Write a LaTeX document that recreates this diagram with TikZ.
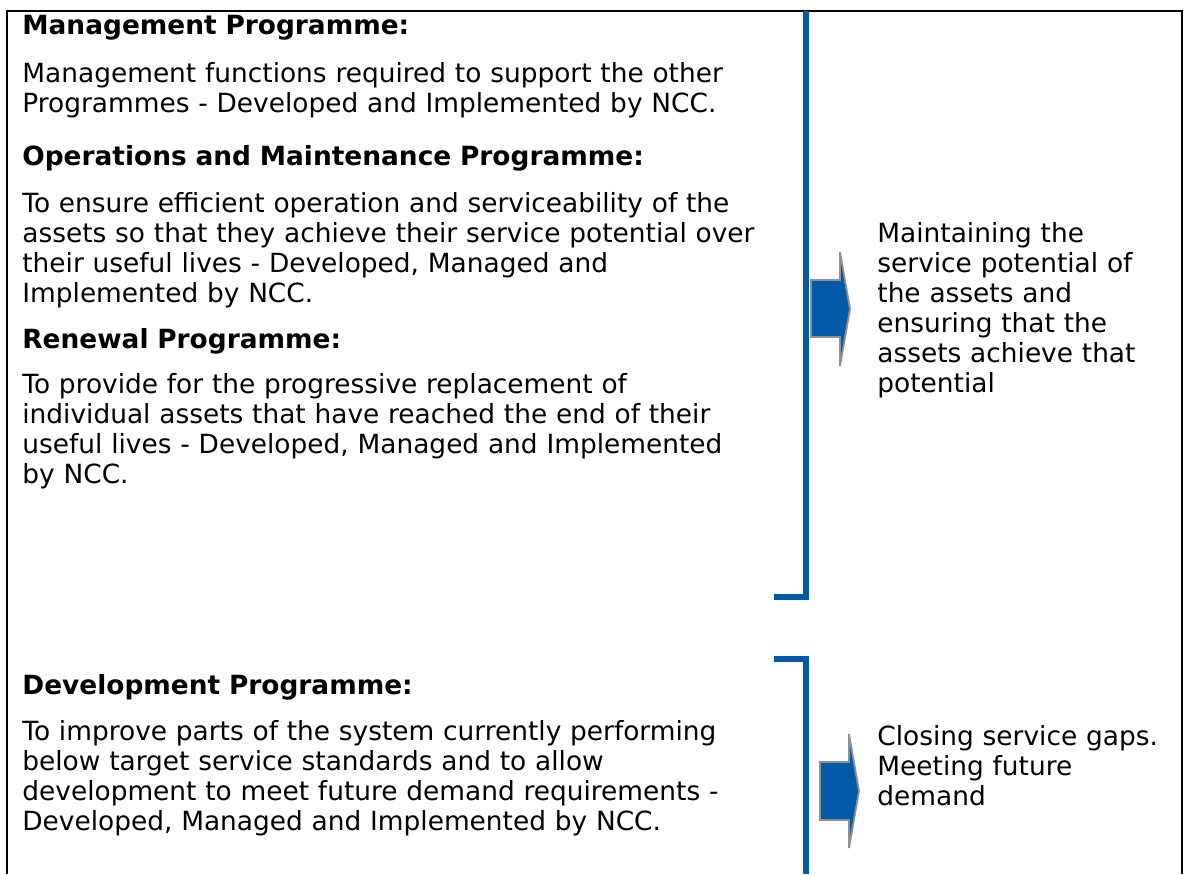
\documentclass[tikz,border=0pt]{standalone}
\usepackage{fontspec}
\setmainfont{DejaVu Sans}
\usepackage{tikz}
\usetikzlibrary{positioning}
\definecolor{bracketColor}{HTML}{005AA7}
\definecolor{arrowEdgeColor}{HTML}{909090}
\tikzset{
  prog/.style={anchor=base west, inner sep=0pt, align=left, text width=430pt,
    font=\fontsize{13.2}{15}\selectfont},
  outcome/.style={prog, text width=170pt},
  bracket/.style={draw=bracketColor, line width=3pt},
  blockarrow/.style={fill=bracketColor, draw=arrowEdgeColor, line width=0.9pt, line join=miter}
}

\begin{document}
\begin{tikzpicture}[x=0.5pt, y=-0.5pt]
          \useasboundingbox (0,0) rectangle (1184,874);
          % frame
          \draw[line width=1pt] (7,874) -- (7,11) -- (1182,11) -- (1182,874);
          % left column
          \node[prog] (mgmtHead) at (22,34) {\textbf{Management Programme:}};
          \node[prog] (mgmtText) at (22,82) {Management functions required to support the other\\Programmes - Developed and Implemented by NCC.};
          \node[prog] (opsHead) at (22,165) {\textbf{Operations and Maintenance Programme:}};
          \node[prog] (opsText) at (22,212) {To ensure efficient operation and serviceability of the\\assets so that they achieve their service potential over\\their useful lives - Developed, Managed and\\Implemented by NCC.};
          \node[prog] (renHead) at (22,348) {\textbf{Renewal Programme:}};
          \node[prog] (renText) at (22,393) {To provide for the progressive replacement of\\individual assets that have reached the end of their\\useful lives - Developed, Managed and Implemented\\by NCC.};
          \node[prog] (devHead) at (22,694) {\textbf{Development Programme:}};
          \node[prog] (devText) at (22,740) {To improve parts of the system currently performing\\below target service standards and to allow\\development to meet future demand requirements -\\Developed, Managed and Implemented by NCC.};
          % brackets
          \draw[bracket] (774,596.5) -- (806,596.5) -- (806,11);
          \draw[bracket] (774,658.5) -- (806,658.5) -- (806,874);
          % arrows
          \draw[blockarrow] (811,280) -- (840,280) -- (840,252) -- (850,309) -- (840,366) -- (840,337) -- (811,337) -- cycle;
          \draw[blockarrow] (820,762) -- (849,762) -- (849,734) -- (859,791) -- (849,848) -- (849,820) -- (820,820) -- cycle;
          % right column
          \node[outcome] (maintText) at (877,242) {Maintaining the\\service potential of\\the assets and\\ensuring that the\\assets achieve that\\potential};
          \node[outcome] (closeText) at (877,745) {Closing service gaps.\\Meeting future\\demand};
        \end{tikzpicture}
\end{document}
